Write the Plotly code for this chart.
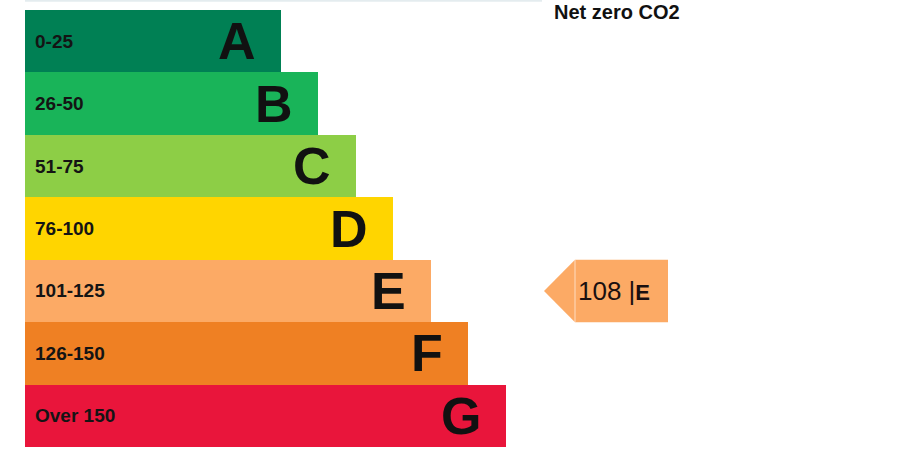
import plotly.graph_objects as go

# Data
ratings = ["A", "B", "C", "D", "E", "F", "G"]
ranges = ["0-25", "26-50", "51-75", "76-100", "101-125", "126-150", "Over 150"]
bar_lengths = [256, 293, 331, 368, 406, 443, 481]
colors = ["#008054", "#19b459", "#8dce46", "#ffd500", "#fcaa65", "#ef8023", "#e9153b"]
score = 108
score_rating = "E"
top_label = "Net zero CO2"

W, H = 922, 473
ML, MT, MB = 25, 10, 26
plot_w = W - ML
plot_h = H - MT - MB


def py(p):
    """paper y for a pixel row p measured from the top of the figure"""
    return (H - MB - p) / plot_h


fig = go.Figure()
fig.add_trace(go.Bar(
    y=ratings, x=bar_lengths, orientation="h",
    marker=dict(color=colors, line=dict(width=0)),
    hoverinfo="skip", showlegend=False,
))

font_family = "Liberation Sans, Arial, sans-serif"
annotations = []
for r, rng, ln in zip(ratings, ranges, bar_lengths):
    annotations.append(dict(x=8, y=r, xref="x", yref="y", text=f"<b>{rng}</b>",
                            showarrow=False, xanchor="left", yanchor="middle",
                            font=dict(family=font_family, size=19, color="#141414")))
    annotations.append(dict(x=ln - 23, y=r, xref="x", yref="y", text=f"<b>{r}</b>",
                            showarrow=False, xanchor="right", yanchor="middle",
                            font=dict(family=font_family, size=52, color="#111111")))

# indicator arrow
idx = ratings.index(score_rating)
ind_color = colors[idx]
tip_x, box_x0, box_x1 = 519, 550, 643
path = (f"M {tip_x},{idx} L {box_x0},{idx-0.5} L {box_x1},{idx-0.5} "
        f"L {box_x1},{idx+0.5} L {box_x0},{idx+0.5} Z")
shapes = [
    dict(type="path", path=path, xref="x", yref="y", fillcolor=ind_color,
         line=dict(width=0), layer="above"),
    dict(type="line", xref="x", yref="y", x0=box_x0, x1=box_x0, y0=idx - 0.5, y1=idx + 0.5,
         line=dict(color="rgba(255,255,255,0.6)", width=1), layer="above"),
    dict(type="line", xref="x", yref="paper", x0=0, x1=517,
         y0=py(0.8), y1=py(0.8),
         line=dict(color="#e4ecef", width=2)),
]
annotations.append(dict(x=box_x0 + 1, y=score_rating, xref="x", yref="y",
                        text=f"{score} |<span style='font-size:22px'><b>{score_rating}</b></span>",
                        showarrow=False, xanchor="left", yanchor="middle",
                        font=dict(family=font_family, size=26, color="#1a1010")))
annotations.append(dict(x=527, y=py(-1), xref="x", yref="paper",
                        text=f"<b>{top_label}</b>", showarrow=False,
                        xanchor="left", yanchor="top",
                        font=dict(family=font_family, size=20, color="#111111")))

fig.update_layout(
    width=W, height=H,
    margin=dict(l=ML, r=0, t=MT, b=MB, pad=0),
    paper_bgcolor="white", plot_bgcolor="white",
    bargap=0,
    xaxis=dict(range=[0, plot_w], visible=False, fixedrange=True),
    yaxis=dict(range=[6.5, -0.5], type="category", visible=False, fixedrange=True),
    annotations=annotations, shapes=shapes,
)

fig.write_html("out.html", config={"displayModeBar": False},
               post_script="document.body.style.margin='0';document.body.style.padding='0';")
